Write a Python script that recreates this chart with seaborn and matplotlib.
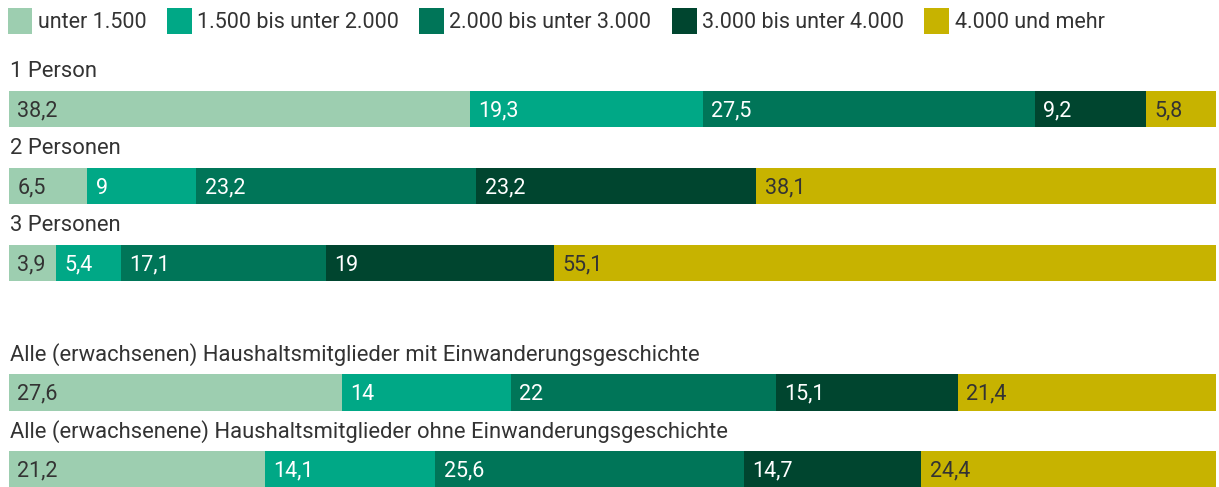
import pandas as pd
import numpy as np
import matplotlib.pyplot as plt
import seaborn as sns
from matplotlib.patches import Patch

# =========================
# DATA
# =========================

categories = ["unter 1.500", "1.500 bis unter 2.000", "2.000 bis unter 3.000",
              "3.000 bis unter 4.000", "4.000 und mehr"]

groups_top = ["1 Person", "2 Personen", "3 Personen"]
groups_bottom = ["Alle (erwachsenen) Haushaltsmitglieder mit Einwanderungsgeschichte",
                 "Alle (erwachsenene) Haushaltsmitglieder ohne Einwanderungsgeschichte"]

val_1p = [38.2, 19.3, 27.5, 9.2, 5.8]
val_2p = [6.5, 9, 23.2, 23.2, 38.1]
val_3p = [3.9, 5.4, 17.1, 19, 55.1]
val_mit = [27.6, 14, 22, 15.1, 21.4]
val_ohne = [21.2, 14.1, 25.6, 14.7, 24.4]

labels_1p = ["38,2", "19,3", "27,5", "9,2", "5,8"]
labels_2p = ["6,5", "9", "23,2", "23,2", "38,1"]
labels_3p = ["3,9", "5,4", "17,1", "19", "55,1"]
labels_mit = ["27,6", "14", "22", "15,1", "21,4"]
labels_ohne = ["21,2", "14,1", "25,6", "14,7", "24,4"]

colors = ["#9dceb0", "#00a886", "#007558", "#00452f", "#c7b300"]
text_colors = ["#333333", "white", "white", "white", "#333333"]

# =========================
# STYLE
# =========================

sns.set_theme(style="white")
plt.rcParams["font.family"] = ["Roboto", "DejaVu Sans"]
TXT = "#333333"
FS = 15.5


def make_df(groups, values, labels):
    rows = []
    for g, vals, labs in zip(groups, values, labels):
        vals = np.array(vals, dtype=float)
        pct = vals / vals.sum() * 100  # bars fill the full width
        ends = np.cumsum(pct)
        starts = ends - pct
        for c, v, lab, s, e in zip(categories, vals, labs, starts, ends):
            rows.append({"group": g, "cat": c, "value": v, "label": lab,
                         "start": s, "end": e})
    return pd.DataFrame(rows)


def draw(ax, df, groups):
    # draw cumulative bars from the last category to the first
    for c, col in reversed(list(zip(categories, colors))):
        sub = df[df["cat"] == c]
        sns.barplot(data=sub, x="end", y="group", order=groups, color=col,
                    width=0.48, saturation=1, linewidth=0, ax=ax)
    for _, r in df.iterrows():
        i = groups.index(r["group"])
        tc = text_colors[categories.index(r["cat"])]
        ax.text(r["start"] + 0.7, i + 0.1, r["label"], color=tc, fontsize=FS,
                va="baseline", ha="left")
    for i, g in enumerate(groups):
        ax.text(0.1, i - 0.24 - 0.17, g, color=TXT, fontsize=15.8,
                va="baseline", ha="left")
    ax.set_xlim(0, 100)
    ax.set_xlabel("")
    ax.set_ylabel("")
    ax.set_xticks([])
    ax.set_yticks([])
    sns.despine(ax=ax, left=True, bottom=True)


df_top = make_df(groups_top, [val_1p, val_2p, val_3p],
                 [labels_1p, labels_2p, labels_3p])
df_bottom = make_df(groups_bottom, [val_mit, val_ohne], [labels_mit, labels_ohne])

W, H = 1219, 487
fig = plt.figure(figsize=(W / 100, H / 100), dpi=100)

ax1 = fig.add_axes([9 / W, (H - 301.5) / H, 1207 / W, 250.25 / H])
ax2 = fig.add_axes([9 / W, (H - 487.5) / H, 1207 / W, 153.2 / H])

draw(ax1, df_top, groups_top)
ax1.set_ylim(2.5, -0.75)
draw(ax2, df_bottom, groups_bottom)
ax2.set_ylim(1.24, -0.75)

handles = [Patch(facecolor=c, edgecolor="none") for c in colors]
fig.legend(handles, categories, loc="upper left", bbox_to_anchor=(0.0, 1.0),
           ncol=5, frameon=False, fontsize=FS, handlelength=1.15,
           handleheight=1.5, handletextpad=0.25, columnspacing=0.95,
           borderaxespad=0.2, borderpad=0.15, labelcolor=TXT)

fig.savefig("out.png", dpi=100)
